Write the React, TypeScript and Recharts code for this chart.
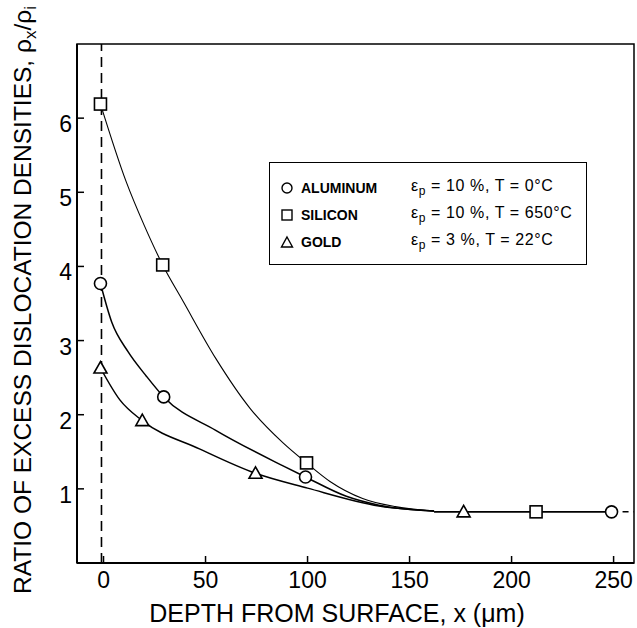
import React from "react";
import {
  ComposedChart,
  Line,
  Scatter,
  XAxis,
  YAxis,
  ReferenceLine,
  ReferenceArea,
  Legend,
  Label,
} from "recharts";

// depth (µm) / ratio values
const xTicks = [0, 50, 100, 150, 200, 250];
const yTicks = [1, 2, 3, 4, 5, 6];

// measured points
const aluminumX = [-1.5, 29.5, 99, 249];
const aluminumY = [3.77, 2.24, 1.16, 0.69];
const siliconX = [-1.5, 29, 99.5, 212];
const siliconY = [6.19, 4.02, 1.35, 0.69];
const goldX = [-1.5, 19, 74.5, 176.5];
const goldY = [2.63, 1.92, 1.21, 0.69];

// hand-drawn curves
const siliconCurveX = [-1.5, 11, 20, 29, 39, 55, 72, 88, 99.5, 111, 127, 143, 162];
const siliconCurveY = [6.19, 5.15, 4.55, 4.02, 3.53, 2.76, 2.08, 1.62, 1.35, 1.1, 0.87, 0.76, 0.7];
const aluminumCurveX = [-1.5, 4, 12, 21, 29.5, 55, 88, 99, 119, 135, 162];
const aluminumCurveY = [3.77, 3.25, 2.85, 2.52, 2.24, 1.79, 1.31, 1.16, 0.9, 0.78, 0.7];
const goldCurveX = [-1.5, 8, 19, 47, 74.5, 100, 135, 162];
const goldCurveY = [2.63, 2.2, 1.92, 1.54, 1.21, 1.01, 0.77, 0.7];
const plateauX = [162, 176.5, 212, 249];
const plateauY = [0.69, 0.69, 0.69, 0.69];
const tailX = [249, 260];
const tailY = [0.69, 0.69];

const legendNames = ["ALUMINUM", "SILICON", "GOLD"];
const legendShapes = ["circle", "square", "triangle"];
const legendStrain = ["10 %", "10 %", "3 %"];
const legendTemp = ["0°C", "650°C", "22°C"];

const zip = (xs: number[], ys: number[]) => xs.map((x, i) => ({ x, y: ys[i] }));

const FONT = "'Liberation Sans', Arial, sans-serif";

const Marker = ({ cx, cy, kind }: any) => {
  if (cx == null || cy == null) return null;
  const common = { fill: "#fff", stroke: "#000", strokeWidth: 1.6 };
  if (kind === "square") return <rect x={cx - 6} y={cy - 6} width={12} height={12} {...common} />;
  if (kind === "triangle")
    return <polygon points={`${cx},${cy - 6.5} ${cx + 6.5},${cy + 5} ${cx - 6.5},${cy + 5}`} {...common} />;
  return <circle cx={cx} cy={cy} r={6} {...common} />;
};

const XTick = ({ x, y, payload }: any) => (
  <g>
    <line x1={x} y1={y} x2={x} y2={y - 7} stroke="#000" strokeWidth={1.5} />
    <text x={x} y={y + 25} textAnchor="middle" fontSize={23} fontFamily={FONT} fill="#000">
      {payload.value}
    </text>
  </g>
);

const YTick = ({ x, y, payload }: any) => (
  <g>
    <line x1={x} y1={y} x2={x + 7} y2={y} stroke="#000" strokeWidth={1.5} />
    <text x={x - 5} y={y + 14} textAnchor="end" fontSize={23} fontFamily={FONT} fill="#000">
      {payload.value}
    </text>
  </g>
);

const LegendSymbol = ({ kind }: { kind: string }) => (
  <svg width={14} height={14} style={{ display: "block" }}>
    {kind === "square" && <rect x={2} y={2} width={10} height={10} fill="#fff" stroke="#000" strokeWidth={1.4} />}
    {kind === "circle" && <circle cx={7} cy={7} r={5} fill="#fff" stroke="#000" strokeWidth={1.4} />}
    {kind === "triangle" && <polygon points="7,2 12.5,12 1.5,12" fill="#fff" stroke="#000" strokeWidth={1.4} />}
  </svg>
);

const LegendBox = () => (
  <div
    style={{
      width: 318,
      height: 103,
      border: "1.5px solid #000",
      boxSizing: "border-box",
      background: "#fff",
      fontFamily: FONT,
      fontSize: 14,
      fontWeight: "bold",
      color: "#000",
      paddingTop: 11,
    }}
  >
    {legendNames.map((name, i) => (
      <div key={name} style={{ display: "flex", alignItems: "center", height: 27 }}>
        <div style={{ width: 29, display: "flex", justifyContent: "center", paddingLeft: 2 }}>
          <LegendSymbol kind={legendShapes[i]} />
        </div>
        <div style={{ width: 110 }}>{name}</div>
        <div style={{ fontWeight: "normal", fontSize: 16, letterSpacing: 0.6 }}>
          ε<sub style={{ fontSize: 12 }}>p</sub> = {legendStrain[i]}, T = {legendTemp[i]}
        </div>
      </div>
    ))}
  </div>
);

export default function App() {
  return (
    <div style={{ position: "absolute", left: 0, top: 0, background: "#fff" }}>
      <ComposedChart
        width={637}
        height={628}
        margin={{ top: 44, right: 3, left: 0, bottom: 0 }}
        style={{ fontFamily: FONT }}
      >
        <XAxis
          type="number"
          dataKey="x"
          domain={[-13, 260]}
          ticks={xTicks}
          allowDataOverflow
          height={65}
          tickSize={0}
          tickMargin={0}
          tickLine={false}
          tick={<XTick />}
          axisLine={{ stroke: "#000", strokeWidth: 2 }}
        >
          <Label
            content={({ viewBox }: any) => (
              <text x={viewBox.x + 260} y={viewBox.y + 59} textAnchor="middle" fontSize={25} fontFamily={FONT} fill="#000">
                DEPTH FROM SURFACE, x (μm)
              </text>
            )}
          />
        </XAxis>
        <YAxis
          type="number"
          dataKey="y"
          domain={[0, 7]}
          ticks={yTicks}
          allowDataOverflow
          width={77}
          tickSize={0}
          tickMargin={0}
          tickLine={false}
          tick={<YTick />}
          axisLine={{ stroke: "#000", strokeWidth: 2 }}
        >
          <Label
            content={() => (
              <text transform="translate(31, 300) rotate(-90)" textAnchor="middle" fontSize={24.5} fontFamily={FONT} fill="#000">
                RATIO OF EXCESS DISLOCATION DENSITIES, ρ
                <tspan fontSize={17} dy={5}>x</tspan>
                <tspan dy={-5}>/ρ</tspan>
                <tspan fontSize={17} dy={5}>i</tspan>
              </text>
            )}
          />
        </YAxis>
        <ReferenceArea x1={-13} x2={260} y1={0} y2={7} fill="none" stroke="#000" strokeWidth={1.5} />
        <ReferenceLine x={-1} stroke="#000" strokeWidth={1.6} strokeDasharray="10 6" />

        <Line data={zip(siliconCurveX, siliconCurveY)} dataKey="y" type="monotone" stroke="#000" strokeWidth={1.1} dot={false} isAnimationActive={false} />
        <Line data={zip(aluminumCurveX, aluminumCurveY)} dataKey="y" type="monotone" stroke="#000" strokeWidth={1.5} dot={false} isAnimationActive={false} />
        <Line data={zip(goldCurveX, goldCurveY)} dataKey="y" type="monotone" stroke="#000" strokeWidth={1.5} dot={false} isAnimationActive={false} />
        <Line data={zip(plateauX, plateauY)} dataKey="y" type="linear" stroke="#000" strokeWidth={1.8} dot={false} isAnimationActive={false} />
        <Line data={zip(tailX, tailY)} dataKey="y" type="linear" stroke="#000" strokeWidth={1.5} strokeDasharray="6 5" dot={false} isAnimationActive={false} />

        <Scatter name="ALUMINUM" data={zip(aluminumX, aluminumY)} shape={(p: any) => <Marker {...p} kind="circle" />} isAnimationActive={false} />
        <Scatter name="SILICON" data={zip(siliconX, siliconY)} shape={(p: any) => <Marker {...p} kind="square" />} isAnimationActive={false} />
        <Scatter name="GOLD" data={zip(goldX, goldY)} shape={(p: any) => <Marker {...p} kind="triangle" />} isAnimationActive={false} />

        <Legend
          layout="vertical"
          align="center"
          verticalAlign="middle"
          content={() => <LegendBox />}
          wrapperStyle={{ position: "absolute", left: 269, top: 162, width: 318, height: 103 }}
        />
      </ComposedChart>
    </div>
  );
}
